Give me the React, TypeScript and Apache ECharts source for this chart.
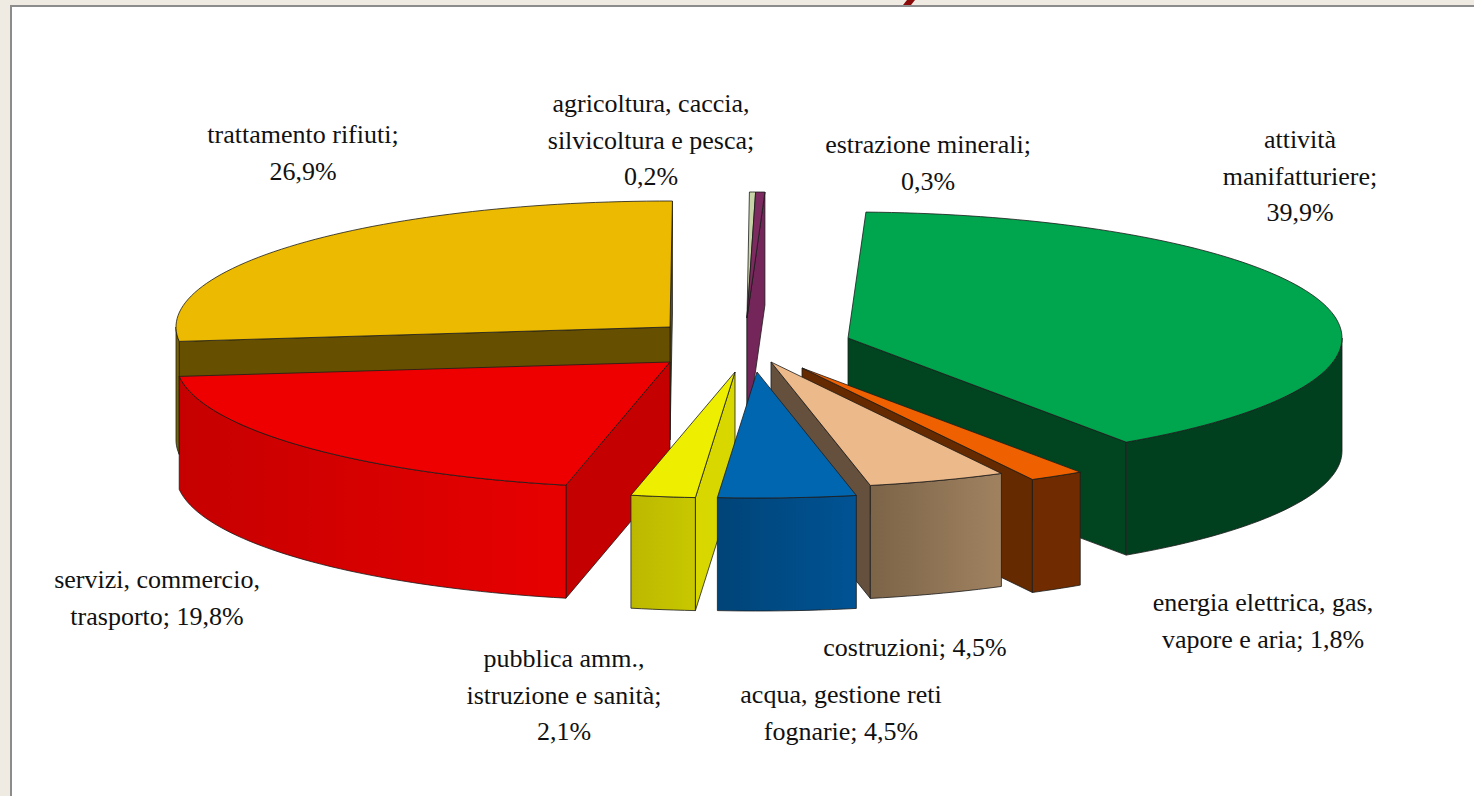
import React, { useEffect, useRef } from "react";
import * as echarts from "echarts";

// Clockwise from the top of the pie
const categories = [
  "agricoltura, caccia, silvicoltura e pesca",
  "estrazione minerali",
  "attività manifatturiere",
  "energia elettrica, gas, vapore e aria",
  "costruzioni",
  "acqua, gestione reti fognarie",
  "pubblica amm., istruzione e sanità",
  "servizi, commercio, trasporto",
  "trattamento rifiuti",
];
const shares = [0.2, 0.3, 39.9, 1.8, 4.5, 4.5, 2.1, 19.8, 26.9];

const labelLines = [
  "agricoltura, caccia,\nsilvicoltura e pesca;\n0,2%",
  "estrazione minerali;\n0,3%",
  "attività\nmanifatturiere;\n39,9%",
  "energia elettrica, gas,\nvapore e aria; 1,8%",
  "costruzioni; 4,5%",
  "acqua, gestione reti\nfognarie; 4,5%",
  "pubblica amm.,\nistruzione e sanità;\n2,1%",
  "servizi, commercio,\ntrasporto; 19,8%",
  "trattamento rifiuti;\n26,9%",
];
const labelCentres = [
  [651, 140], [928, 163], [1300, 176], [1263, 621], [915, 647],
  [841, 713], [564, 695], [157, 598], [303, 153],
];

// Exploded position of each slice's apex
const apexes = [
  [747, 318], [747, 318], [848, 338], [802, 368], [771, 362],
  [757, 372], [735, 372], [670, 362], [670, 327],
];
const stacking = [2, 3, 4, 5, 6, 9, 8, 7, 1];
const topColors = ["#c8d4a8", "#7c2a60", "#00a64e", "#ee6000", "#ecb98a", "#0066b0", "#eeee00", "#ee0000", "#ecba00"];
const rimFrom = ["#55583f", "#7c2a60", "#00401f", "#702c00", "#a08260", "#005394", "#c8c800", "#e80000", "#7a6400"];
const rimTo = ["#55583f", "#7c2a60", "#00401f", "#702c00", "#7c6448", "#004478", "#bcb800", "#c60000", "#7a6400"];
const wallColors = ["#55583f", "#74265a", "#00451f", "#662a00", "#64503c", "#004478", "#d8d800", "#c40000", "#665000"];

const RX = 494;
const RY = 126;
const DEPTH = 113;
const START_DEG = 0.28;
const EDGE = "#1c1c1c";

const total = shares.reduce((a, b) => a + b, 0);
const startDegs: number[] = [];
shares.reduce((acc, v) => {
  startDegs.push(acc);
  return acc + (v / total) * 360;
}, START_DEG);

function rim(ax: number, ay: number, deg: number, dz = 0): number[] {
  const t = (deg * Math.PI) / 180;
  return [ax + RX * Math.sin(t), ay - RY * Math.cos(t) + dz];
}

function arc(ax: number, ay: number, from: number, to: number, dz = 0): number[][] {
  const steps = Math.max(2, Math.ceil((to - from) / 1.5));
  const pts: number[][] = [];
  for (let i = 0; i <= steps; i++) pts.push(rim(ax, ay, from + ((to - from) * i) / steps, dz));
  return pts;
}

function renderSlice(params: any, api: any) {
  const i = params.dataIndex;
  const sweep = (api.value(0) / total) * 360;
  const from = startDegs[i];
  const to = from + sweep;
  const [ax, ay] = apexes[i];
  const z2 = stacking[i] * 10;
  const edge = { stroke: EDGE, lineWidth: 0.8, lineJoin: "round" };
  const children: any[] = [];
  const poly = (points: number[][], fill: any, dz: number) =>
    children.push({ type: "polygon", z2: z2 + dz, shape: { points }, style: { fill, ...edge } });

  if (Math.sin((to * Math.PI) / 180) > 0) {
    const e = rim(ax, ay, to);
    poly([[ax, ay], e, [e[0], e[1] + DEPTH], [ax, ay + DEPTH]], wallColors[i], 0);
  }
  if (Math.sin((from * Math.PI) / 180) < 0) {
    const s = rim(ax, ay, from);
    poly([[ax, ay], s, [s[0], s[1] + DEPTH], [ax, ay + DEPTH]], wallColors[i], 0);
  }
  const a = Math.max(from, 90);
  const b = Math.min(to, 270);
  if (b > a) {
    const top = arc(ax, ay, a, b);
    const bottom = arc(ax, ay, a, b, DEPTH).reverse();
    const fill = new echarts.graphic.LinearGradient(0, 0, 1, 0, [
      { offset: 0, color: rimTo[i] },
      { offset: 1, color: rimFrom[i] },
    ]);
    poly(top.concat(bottom), fill, 1);
  }
  poly([[ax, ay], ...arc(ax, ay, from, to)], topColors[i], 2);
  return { type: "group", children };
}

export default function App() {
  const ref = useRef<HTMLDivElement>(null);
  useEffect(() => {
    const chart = echarts.init(ref.current!, null, { renderer: "svg" });
    chart.setOption({
      animation: false,
      backgroundColor: "#efebe2",
      tooltip: { show: false },
      graphic: {
        elements: [
          { type: "rect", z: -10, shape: { x: 12, y: 7, width: 1462, height: 789 }, style: { fill: "#ffffff" } },
          { type: "rect", z: -9, shape: { x: 10, y: 5, width: 1464, height: 2 }, style: { fill: "#8c8c8c" } },
          { type: "rect", z: -9, shape: { x: 10, y: 5, width: 2, height: 791 }, style: { fill: "#8c8c8c" } },
          { type: "polygon", z: -9, shape: { points: [[907, 0], [915, 0], [911, 5], [903, 5]] }, style: { fill: "#8b0a0a" } },
          ...labelLines.map((text, i) => ({
            type: "text",
            z: 10,
            x: labelCentres[i][0],
            y: labelCentres[i][1],
            style: {
              text,
              fill: "#111111",
              font: "26px 'Liberation Serif'",
              lineHeight: 36.5,
              align: "center",
              verticalAlign: "middle",
            },
          })),
        ],
      },
      series: [
        {
          type: "custom",
          coordinateSystem: "none",
          renderItem: renderSlice,
          silent: true,
          data: categories.map((name, i) => ({ name, value: [shares[i]] })),
        },
      ],
    });
    return () => chart.dispose();
  }, []);
  return <div ref={ref} style={{ position: "absolute", left: 0, top: 0, width: 1474, height: 796 }} />;
}
